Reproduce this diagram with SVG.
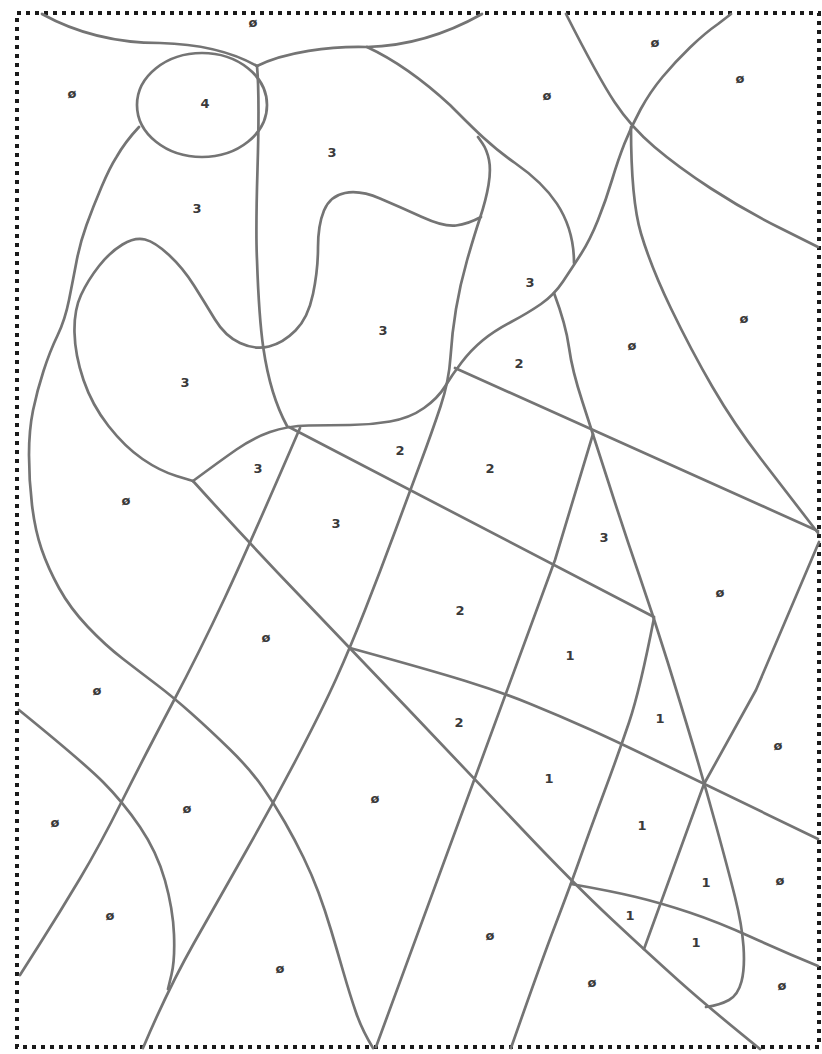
<svg xmlns="http://www.w3.org/2000/svg" width="822" height="1054" viewBox="0 0 822 1054">
<style>
.c{fill:none;stroke:#747474;stroke-width:2.7;stroke-linejoin:round;stroke-linecap:round}
.t{font-family:"DejaVu Sans",sans-serif;font-size:13px;font-weight:bold;fill:#3a3a3a;text-anchor:middle;dominant-baseline:central}
.b{fill:none;stroke:#1a1a1a;stroke-width:4;stroke-dasharray:4 5}
</style>
<rect width="822" height="1054" fill="#fff"/>
<rect class="b" x="17" y="13" width="802" height="1034"/>
<g id="curves">
<path class="c" d="M 42,14 C 80,35 120,43 160,43 C 200,44 232,52 257,66"/>
<path class="c" d="M 257,66 C 285,52 330,46 367,47 C 410,46 450,32 482,14"/>
<path class="c" d="M 367,47 C 395,60 425,82 450,105 C 470,125 490,146 515,163 C 548,186 574,215 574,263"/>
<ellipse class="c" cx="202" cy="105" rx="65" ry="52"/>
<path class="c" d="M 257,66 C 262,120 254,200 257,260 C 259,320 262,380 287,426"/>
<path class="c" d="M 481,217 Q 468,224 456,225.5 Q 444,227 422,217 Q 400,207 380,198.5 Q 360,190 345,193 Q 330,196 324,210.5 Q 318,225 318,247.5 Q 318,270 313,294 Q 308,318 295.5,330.5 Q 283,343 269,346.5 Q 255,350 240,343 Q 225,336 215,319.5 Q 205,303 194,285.5 Q 183,268 169,255 Q 155,242 145,239.5 Q 135,237 122.5,244.5 Q 110,252 99,266 Q 88,280 81,295 Q 74,310 74.5,332.5 Q 75,355 83.5,380 Q 92,405 108.5,426 Q 125,447 142.5,459 Q 160,471 176.5,476 L 193,481"/>
<path class="c" d="M 193,481 Q 220,461 236.5,449.5 Q 253,438 270,432 Q 287,426 308.5,425.5 Q 330,425 350,425 Q 370,425 390,421.5 Q 410,418 424,408 Q 438,398 445,386.5 Q 452,375 461.5,362.5 Q 471,350 482.5,340.5 Q 494,331 511,322 Q 528,313 541,304 Q 554,295 563,281.5 Q 572,268 581,254 Q 590,240 598,220 Q 606,200 612,180 Q 618,160 624.5,143.5 Q 631,127 640.5,109.5 Q 650,92 662.5,77 Q 675,62 690,47.5 Q 705,33 718,24 L 731,14"/>
<path class="c" d="M 143,1048 Q 168,989 194,943 Q 220,897 247,849.5 Q 274,802 298.5,755 Q 323,708 336.5,678 Q 350,648 365,610 Q 380,572 395,531.5 Q 410,491 421,461.5 Q 432,432 440.5,406.5 Q 449,381 450.5,357 Q 452,333 456,309 Q 460,285 467,260.5 Q 474,236 480,218 Q 486,200 488.5,185 Q 491,170 489,160 Q 487,150 482.5,143.5 L 478,137"/>
<path class="c" d="M 139,127 Q 125,142 116.5,157 Q 110,167 101.5,187 Q 93,207 86.5,225 Q 80,243 76.5,261.5 Q 73,280 69,300 Q 65,320 57.5,335.5 Q 50,351 43.5,371 Q 37,391 33,410.5 Q 29,430 29,455 Q 29,480 32,505 Q 35,530 41.5,549 Q 48,568 59,588 Q 70,608 87.5,626.5 Q 105,645 122.5,658.5 Q 140,672 156.5,684.5 Q 173,697 191.5,713.5 Q 210,730 230,749.5 Q 250,769 262.5,787 Q 275,805 285,822.5 Q 295,840 303.5,857.5 Q 312,875 318.5,892.5 Q 325,910 331,930 Q 337,950 343.5,972.5 Q 350,995 356,1012.5 Q 362,1030 373,1048"/>
<path class="c" d="M 300,428 Q 250,544 225,597.5 Q 200,651 171.5,705 Q 143,759 121.5,802 Q 100,845 80,878.5 Q 60,912 40,943.5 L 20,975"/>
<path class="c" d="M 193,481 Q 250,544 300,596 Q 350,648 409,710 Q 468,772 521,828 Q 574,884 612,919.5 Q 650,955 679,981 Q 708,1007 760,1049"/>
<path class="c" d="M 455,368 L 818,531"/>
<path class="c" d="M 289,427 L 654,617"/>
<path class="c" d="M 350,648 Q 430,670 465.5,681 Q 501,692 530.5,704 Q 560,716 589,729 Q 618,742 661,763 Q 704,784 818,839"/>
<path class="c" d="M 571,884 Q 611,891 636,897 Q 661,903 689.5,912.5 Q 718,922 751,937 Q 784,952 818,966"/>
<path class="c" d="M 554,293 Q 566,325 569,347.5 Q 572,370 582.5,402 Q 593,434 608.5,482.5 Q 624,531 639,574.5 Q 654,618 667.5,661.5 Q 681,705 692.5,743.5 Q 704,782 716,825.5 Q 728,869 735,897 Q 742,925 743.5,946.5 Q 745,968 741.5,981.5 Q 738,995 729,1000 Q 720,1005 706,1007"/>
<path class="c" d="M 819,542 L 756,690 L 704,784 L 644,949"/>
<path class="c" d="M 654,618 Q 640,690 629,722.5 Q 618,755 604,792.5 Q 590,830 580.5,857 Q 571,884 555.5,924.5 Q 540,965 511,1048"/>
<path class="c" d="M 593,434 L 555,560 L 376,1047"/>
<path class="c" d="M 566,14 Q 598,77 614.5,102 Q 631,127 654.5,147 Q 678,167 711,188.5 Q 744,210 781,228.5 L 818,247"/>
<path class="c" d="M 631,127 Q 631,200 641,233.5 Q 651,267 671,308.5 Q 691,350 712.5,387 Q 734,424 761,459 Q 788,494 818,533"/>
<path class="c" d="M 19,710 Q 83,762 103,782 Q 123,802 140,827 Q 157,852 165,880.5 Q 173,909 174,934.5 Q 175,960 171.5,974.5 L 168,989"/>
</g>
<g id="labels">
<text class="t" x="253" y="22">ø</text>
<text class="t" x="655" y="42">ø</text>
<text class="t" x="72" y="93">ø</text>
<text class="t" x="205" y="103">4</text>
<text class="t" x="547" y="95">ø</text>
<text class="t" x="740" y="78">ø</text>
<text class="t" x="332" y="152">3</text>
<text class="t" x="197" y="208">3</text>
<text class="t" x="530" y="282">3</text>
<text class="t" x="383" y="330">3</text>
<text class="t" x="744" y="318">ø</text>
<text class="t" x="632" y="345">ø</text>
<text class="t" x="519" y="363">2</text>
<text class="t" x="185" y="382">3</text>
<text class="t" x="400" y="450">2</text>
<text class="t" x="258" y="468">3</text>
<text class="t" x="490" y="468">2</text>
<text class="t" x="126" y="500">ø</text>
<text class="t" x="336" y="523">3</text>
<text class="t" x="604" y="537">3</text>
<text class="t" x="720" y="592">ø</text>
<text class="t" x="460" y="610">2</text>
<text class="t" x="570" y="655">1</text>
<text class="t" x="266" y="637">ø</text>
<text class="t" x="97" y="690">ø</text>
<text class="t" x="459" y="722">2</text>
<text class="t" x="660" y="718">1</text>
<text class="t" x="778" y="745">ø</text>
<text class="t" x="549" y="778">1</text>
<text class="t" x="375" y="798">ø</text>
<text class="t" x="187" y="808">ø</text>
<text class="t" x="55" y="822">ø</text>
<text class="t" x="642" y="825">1</text>
<text class="t" x="706" y="882">1</text>
<text class="t" x="780" y="880">ø</text>
<text class="t" x="110" y="915">ø</text>
<text class="t" x="630" y="915">1</text>
<text class="t" x="696" y="942">1</text>
<text class="t" x="490" y="935">ø</text>
<text class="t" x="280" y="968">ø</text>
<text class="t" x="592" y="982">ø</text>
<text class="t" x="782" y="985">ø</text>
</g>
</svg>
